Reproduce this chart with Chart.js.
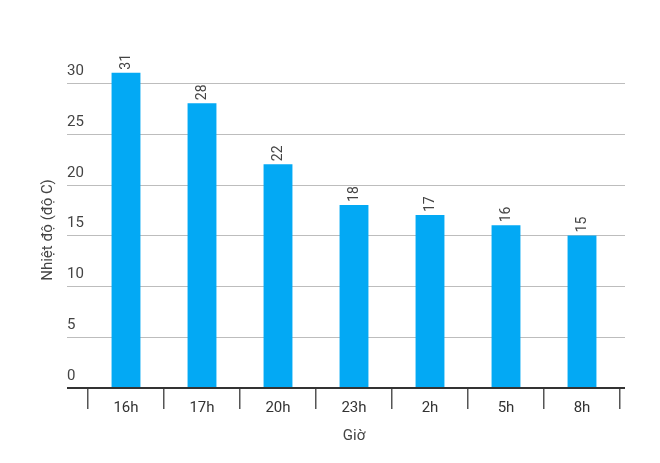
<!DOCTYPE html>
<html>
<head>
<meta charset="utf-8">
<script src="https://cdn.jsdelivr.net/npm/chart.js@4"></script>
<style>
  html, body { margin: 0; padding: 0; background: #fff; }
  #wrap { width: 660px; height: 463px; }
</style>
</head>
<body>
<div id="wrap"><canvas id="tempChart"></canvas></div>
<script>
const hours = ['16h', '17h', '20h', '23h', '2h', '5h', '8h'];
const temps = [31, 28, 22, 18, 17, 16, 15];
const yTicks = [0, 5, 10, 15, 20, 25, 30];

// grid lines, y labels, base line and value labels drawn over the library scales
const decorPlugin = {
    id: 'decor',
    beforeDatasetsDraw(chart) {
        const ctx = chart.ctx;
        const y = chart.scales.y;
        ctx.save();
        ctx.font = '15px Roboto';
        ctx.fillStyle = '#444';
        ctx.textAlign = 'left';
        ctx.textBaseline = 'bottom';
        yTicks.forEach(v => {
            const py = Math.round(y.getPixelForValue(v)) + 0.5;
            if (v > 0) {
                ctx.strokeStyle = '#bdbdbd';
                ctx.lineWidth = 1;
                ctx.beginPath();
                ctx.moveTo(67, py);
                ctx.lineTo(625, py);
                ctx.stroke();
            }
            ctx.fillText(String(v), 67, py - 5);
        });
        ctx.restore();
    },
    afterDatasetsDraw(chart) {
        const ctx = chart.ctx;
        const y = chart.scales.y;
        const meta = chart.getDatasetMeta(0);
        ctx.save();
        const py = y.getPixelForValue(0);
        ctx.strokeStyle = '#333';
        ctx.lineWidth = 2;
        ctx.beginPath();
        ctx.moveTo(67, py);
        ctx.lineTo(625, py);
        ctx.stroke();
        ctx.font = '14px Roboto';
        ctx.fillStyle = '#444';
        ctx.textAlign = 'left';
        ctx.textBaseline = 'middle';
        meta.data.forEach((bar, i) => {
            ctx.save();
            ctx.translate(bar.x, bar.y - 3);
            ctx.rotate(-Math.PI / 2);
            ctx.fillText(String(temps[i]), 0, 0);
            ctx.restore();
        });
        ctx.restore();
    }
};

new Chart(document.getElementById('tempChart'), {
    type: 'bar',
    data: {
        labels: hours,
        datasets: [{
            data: temps,
            backgroundColor: '#03a9f4',
            categoryPercentage: 1,
            barPercentage: 0.38
        }]
    },
    options: {
        responsive: true,
        maintainAspectRatio: false,
        animation: false,
        layout: { padding: { left: 88, right: 40, top: 32, bottom: 14 } },
        plugins: {
            legend: { display: false },
            tooltip: { enabled: false },
            title: { display: false }
        },
        scales: {
            x: {
                offset: true,
                grid: {
                    offset: true,
                    drawOnChartArea: false,
                    tickLength: 21,
                    color: '#555',
                    lineWidth: 1.5
                },
                border: { display: false },
                ticks: { color: '#333', font: { family: 'Roboto', size: 15 }, padding: -10 },
                title: {
                    display: true,
                    text: 'Giờ',
                    color: '#444',
                    font: { family: 'Roboto', size: 15 },
                    padding: { top: 20 }
                }
            },
            y: {
                display: false,
                min: 0,
                max: 35
            }
        }
    },
    plugins: [decorPlugin, {
        id: 'yTitle',
        afterDraw(chart) {
            const ctx = chart.ctx;
            ctx.save();
            ctx.translate(48, 230);
            ctx.rotate(-Math.PI / 2);
            ctx.font = '15px Roboto';
            ctx.fillStyle = '#444';
            ctx.textAlign = 'center';
            ctx.textBaseline = 'middle';
            ctx.fillText('Nhiệt độ (độ C)', 0, 0);
            ctx.restore();
        }
    }]
});
</script>
</body>
</html>
